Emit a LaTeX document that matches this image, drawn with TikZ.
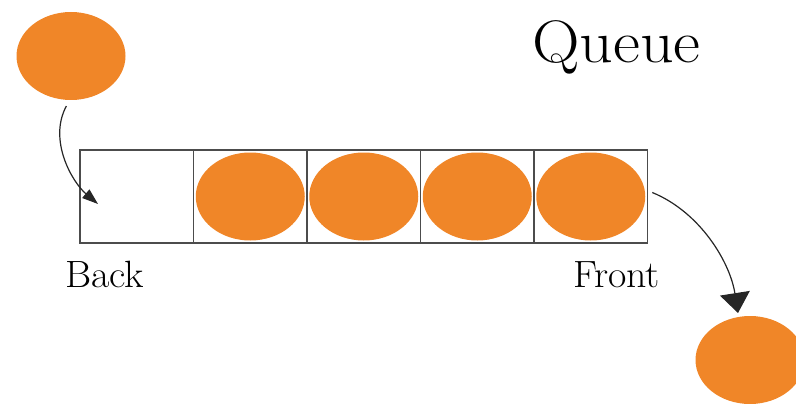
\documentclass[tikz,border=0pt]{standalone}
\usetikzlibrary{shapes.geometric,arrows.meta}
\definecolor{ballorange}{RGB}{240,134,40}
\tikzset{
  cell/.style={draw=black!70,line width=1.5pt,minimum width=113.5pt,minimum height=93pt,inner sep=0pt},
  ball/.style={ellipse,fill=ballorange,minimum width=109pt,minimum height=88pt,inner sep=0pt},
  label/.style={font=\fontsize{38}{40}\selectfont,anchor=base west,inner sep=0pt,xscale=1.05},
  move/.style={line width=1.2pt,black!85}
}
\begin{document}
\begin{tikzpicture}[x=1pt,y=-1pt]
  \useasboundingbox (0,0) rectangle (796,404);
  \foreach \i in {1,...,5}
    \node[cell] (c\i) at ({80+56.75+113.5*(\i-1)},196.5) {};
  \foreach \i in {2,...,5}
    \node[ball] (b\i) at (c\i) {};
  \node[ball] (in) at (71,56) {};
  \node[ball] (out) at (750,360) {};
  \node[label] (back) at (65,287) {Back};
  \node[label] (front) at (573,287) {Front};
  \node[font=\fontsize{60}{62}\selectfont,anchor=base west,inner sep=0pt,xscale=1.1] (title) at (532,63) {Queue};
  \coordinate (drop) at (98,204);
  \coordinate (land) at (738,313);
  \draw[move,-{Triangle[width=11pt,length=16pt]}] (in.264) ++(0,6) .. controls (48,140) and (72,182) .. (drop);
  \draw[move,-{Triangle[width=30pt,length=20pt]}] (c5.east) ++(4,-4) .. controls (700,212) and (730,262) .. (land);
\end{tikzpicture}
\end{document}
